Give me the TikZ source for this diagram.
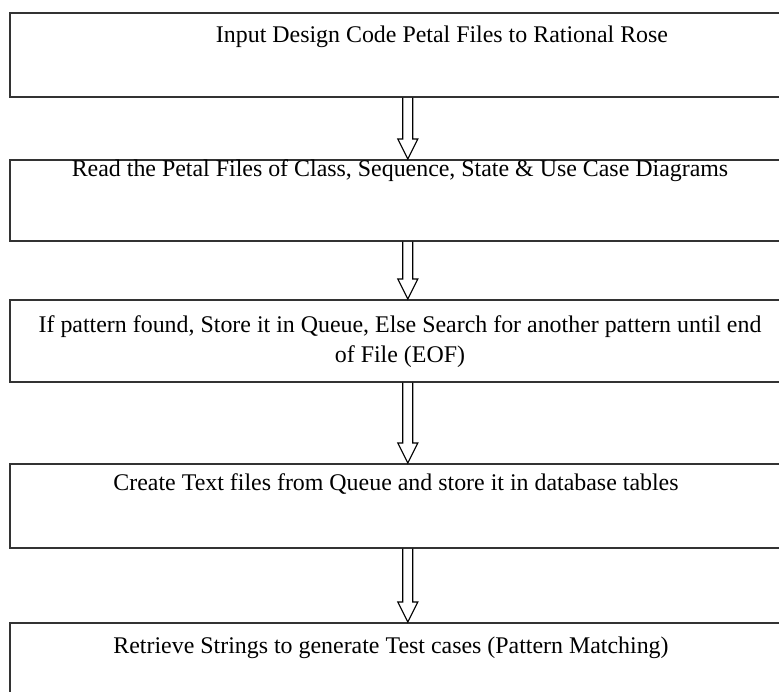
\documentclass[tikz,border=0pt]{standalone}
\usepackage{fontspec}
\setmainfont{Liberation Serif}
\usetikzlibrary{calc}
\definecolor{boxgray}{gray}{0.2}
\begin{document}
\begin{tikzpicture}[x=1pt,y=-1pt,
  box/.style={draw=boxgray, line width=1.6pt, minimum width=796pt, inner sep=0pt, anchor=north west},
  lbl/.style={font=\fontsize{23.9}{30}\selectfont, inner sep=0pt, align=center, text=black},
  harrow/.style={draw=black, line width=1.2pt, line join=miter}]
\useasboundingbox (0,0) rectangle (779,692);
\clip (0,0) rectangle (779,692);
\node[box, minimum height=84pt] (b1) at (9,12) {};
\node[box, minimum height=81pt] (b2) at (9,159) {};
\node[box, minimum height=82pt] (b3) at (9,299) {};
\node[box, minimum height=84pt] (b4) at (9,463) {};
\node[box, minimum height=90pt] (b5) at (9,622) {};
\node[lbl, anchor=base] (t1) at (442,43) {Input Design Code Petal Files to Rational Rose};
\node[lbl, anchor=base] (t2) at (400,177) {Read the Petal Files of Class, Sequence, State \& Use Case Diagrams};
\node[lbl] (t3) at (400,341.3) {If pattern found, Store it in Queue, Else Search for another pattern until end\\of File (EOF)};
\node[lbl, anchor=base] (t4) at (396,490) {Create Text files from Queue and store it in database tables};
\node[lbl, anchor=base] (t5) at (391,653) {Retrieve Strings to generate Test cases (Pattern Matching)};
\foreach \a/\b in {b1/b2,b2/b3,b3/b4,b4/b5}{
  \draw[harrow] ($(\a.south)+(-5,0)$) -- ($(\b.north)+(-5,-20)$) -- ($(\b.north)+(-10,-20)$)
    -- (\b.north) -- ($(\b.north)+(10,-20)$) -- ($(\b.north)+(5,-20)$) -- ($(\a.south)+(5,0)$);
}
\end{tikzpicture}
\end{document}
